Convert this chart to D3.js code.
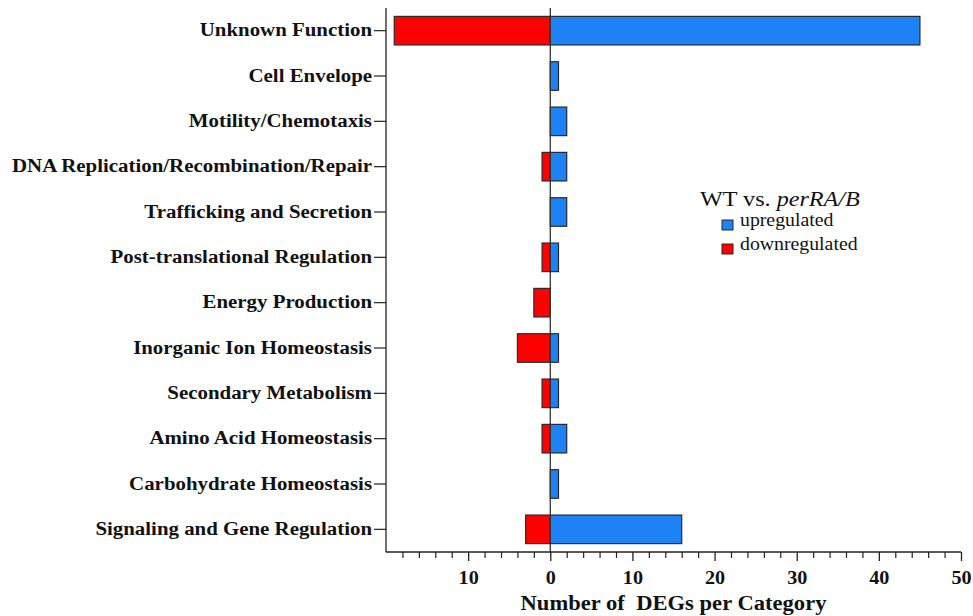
<!DOCTYPE html>
<html>
<head>
<meta charset="utf-8">
<script src="https://cdn.jsdelivr.net/npm/d3@7"></script>
<style>
  html, body { margin: 0; padding: 0; background: #fff; }
  svg { display: block; font-family: "Liberation Serif", "Times New Roman", serif; }
</style>
</head>
<body>
<svg id="chart" width="973" height="616"></svg>
<script>
// Functional categories of differentially expressed genes
const categories = [
  "Unknown Function",
  "Cell Envelope",
  "Motility/Chemotaxis",
  "DNA Replication/Recombination/Repair",
  "Trafficking and Secretion",
  "Post-translational Regulation",
  "Energy Production",
  "Inorganic Ion Homeostasis",
  "Secondary Metabolism",
  "Amino Acid Homeostasis",
  "Carbohydrate Homeostasis",
  "Signaling and Gene Regulation"
];
const upregulated   = [45, 1, 2, 2, 2, 1, 0, 1, 1, 2, 1, 16];
const downregulated = [19, 0, 0, 1, 0, 1, 2, 4, 1, 1, 0, 3];
const majorTicks = [-10, 0, 10, 20, 30, 40, 50];
const minorTicks = d3.range(-18, 51, 2);

(function draw() {
  const svg = d3.select("#chart");
  const plotLeft = 386, plotRight = 961, plotTop = 8, plotBottom = 552;
  const serif = '"Liberation Serif", "Times New Roman", serif';

  // Widen text horizontally while keeping its anchor point in place
  function widen(sel, k) {
    sel.each(function () {
      const t = d3.select(this);
      const x0 = +(t.attr("x") || 0);
      t.attr("x", x0 / k).attr("transform", `scale(${k},1)`);
    });
  }

  const x = d3.scaleLinear().domain([-20, 50]).range([plotLeft, plotRight]);
  const y = d3.scaleBand().domain(categories).range([plotTop, plotBottom])
    .paddingInner(0.37).paddingOuter(0.185);

  const red = "#ff0000", blue = "#1c82f5", edge = "#2a2a2a";

  // Bars: downregulated to the left of zero, upregulated to the right
  const rows = categories.map((c, i) => ({ c, up: upregulated[i], down: downregulated[i] }));

  svg.append("g").selectAll("rect").data(rows.filter(d => d.down > 0)).join("rect")
    .attr("x", d => x(-d.down)).attr("y", d => y(d.c))
    .attr("width", d => x(0) - x(-d.down)).attr("height", y.bandwidth())
    .attr("fill", red).attr("stroke", edge).attr("stroke-width", 1.2);

  svg.append("g").selectAll("rect").data(rows.filter(d => d.up > 0)).join("rect")
    .attr("x", x(0)).attr("y", d => y(d.c))
    .attr("width", d => x(d.up) - x(0)).attr("height", y.bandwidth())
    .attr("fill", blue).attr("stroke", edge).attr("stroke-width", 1.2);

  // Zero line
  svg.append("line")
    .attr("x1", x(0)).attr("x2", x(0)).attr("y1", plotTop).attr("y2", plotBottom)
    .attr("stroke", "#333").attr("stroke-width", 1.3);

  // Y axis with category labels
  const gy = svg.append("g").attr("transform", `translate(${plotLeft},0)`)
    .call(d3.axisLeft(y).tickSize(12).tickPadding(2));
  gy.select(".domain").attr("stroke", "#222").attr("stroke-width", 1.3)
    .attr("d", `M0,${plotTop}V${plotBottom}`);
  gy.selectAll(".tick line").attr("stroke", "#222").attr("stroke-width", 1.2);
  gy.selectAll(".tick text")
    .attr("fill", "#111").style("font-size", "18px").style("font-weight", "bold")
    .style("font-family", serif)
    .call(widen, 1.16);

  // X axis: minor ticks every 2, labelled major ticks every 10
  const gxMinor = svg.append("g").attr("transform", `translate(0,${plotBottom})`)
    .call(d3.axisBottom(x).tickValues(minorTicks.filter(v => v % 10 !== 0)).tickSize(6).tickFormat(""));
  gxMinor.select(".domain").remove();
  gxMinor.selectAll(".tick line").attr("stroke", "#222").attr("stroke-width", 1.2);

  const gx = svg.append("g").attr("transform", `translate(0,${plotBottom})`)
    .call(d3.axisBottom(x).tickValues(majorTicks).tickSize(9).tickPadding(10)
      .tickFormat(d => String(Math.abs(d))));
  gx.select(".domain").attr("stroke", "#222").attr("stroke-width", 1.3)
    .attr("d", `M${plotLeft},0H${plotRight}`);
  gx.selectAll(".tick line").attr("stroke", "#222").attr("stroke-width", 1.3);
  gx.selectAll(".tick text")
    .attr("fill", "#111").style("font-size", "18px").style("font-weight", "bold")
    .style("font-family", serif)
    .call(widen, 1.12);

  // Axis title
  svg.append("text")
    .attr("x", (plotLeft + plotRight) / 2).attr("y", 610)
    .attr("text-anchor", "middle").attr("fill", "#111")
    .style("font-size", "20px").style("font-weight", "bold").style("white-space", "pre")
    .text("Number of  DEGs per Category")
    .call(widen, 1.13);

  // Legend
  const legend = svg.append("g");
  const title = legend.append("text").attr("x", 700).attr("y", 206)
    .attr("fill", "#111").style("font-size", "21px");
  title.append("tspan").text("WT vs. ");
  title.append("tspan").style("font-style", "italic").text("perRA/B");
  title.call(widen, 1.15);

  const legendItems = [
    { label: "upregulated", color: blue },
    { label: "downregulated", color: red }
  ];
  legendItems.forEach((d, i) => {
    const yy = 226 + i * 24;
    legend.append("rect").attr("x", 722).attr("y", yy - 6).attr("width", 11).attr("height", 10)
      .attr("fill", d.color).attr("stroke", edge).attr("stroke-width", 1);
    legend.append("text").attr("x", 740).attr("y", yy).attr("fill", "#111")
      .style("font-size", "18px").text(d.label)
      .call(widen, 1.1);
  });
})();
</script>
</body>
</html>
